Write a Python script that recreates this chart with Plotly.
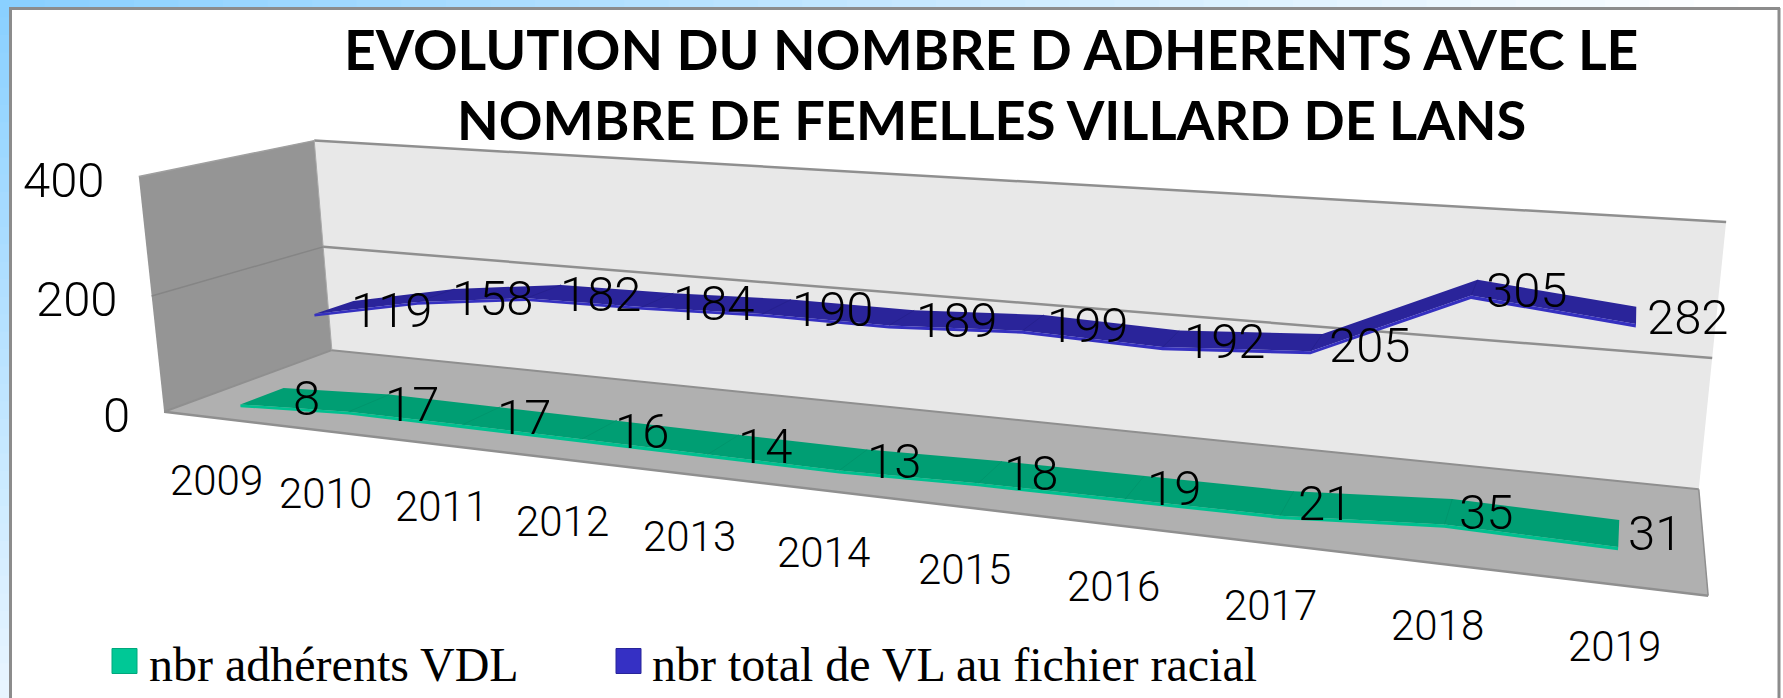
import numpy as np
import plotly.graph_objects as go

# ---------- data ----------
years = ["2009","2010","2011","2012","2013","2014","2015","2016","2017","2018","2019"]
adherents = [8,17,17,16,14,13,18,19,21,35,31]
total_vl = [119,158,182,184,190,189,199,192,205,305,282]
y_ticks = [0,200,400]
title_lines = ["EVOLUTION DU NOMBRE D ADHERENTS AVEC LE","NOMBRE DE FEMELLES VILLARD DE LANS"]
name_green = "nbr adhérents VDL"
name_blue = "nbr total de VL au fichier racial"

W,H = 1783,698
VMAX = 400
N = len(years)

# ---------- perspective camera of the 3-D box: (X along categories, Y depth, Z height) -> pixels ----------
anchors = [((0,0,0),(165,412)),((1,0,0),(1708,596)),((0,1,0),(331,350)),((1,1,0),(1699,489)),
           ((0,0,1),(138,176)),((0,1,1),(315,141)),((1,1,1),(1726,222))]
rows=[]
for (X,Y,Z),(u,v) in anchors:
    rows.append([X,Y,Z,1,0,0,0,0,-u*X,-u*Y,-u*Z,-u])
    rows.append([0,0,0,0,X,Y,Z,1,-v*X,-v*Y,-v*Z,-v])
P = np.linalg.svd(np.array(rows,float))[2][-1].reshape(3,4)

def proj(X,Y,Z):
    p = P @ np.array([X,Y,Z,1.0])
    return p[0]/p[2], p[1]/p[2]
def xcat(i):
    return (i+0.5)/N
def poly(pts):
    a=[proj(*q) for q in pts]
    a.append(a[0])
    return [c[0] for c in a],[c[1] for c in a]

fig = go.Figure()
def face(pts,fill,line=None,lw=0):
    x,y = poly(pts)
    fig.add_trace(go.Scatter(x=x,y=y,mode="lines",fill="toself",fillcolor=fill,
        line=dict(color=line or fill,width=lw if line else 0),hoverinfo="skip",showlegend=False))
def seg(p,q,color,lw):
    a,b=proj(*p),proj(*q)
    fig.add_trace(go.Scatter(x=[a[0],b[0]],y=[a[1],b[1]],mode="lines",line=dict(color=color,width=lw),hoverinfo="skip",showlegend=False))

# walls
face([(0,1,0),(1,1,0),(1,1,1),(0,1,1)],"#e8e8e8")
face([(0,0,0),(0,1,0),(0,1,1),(0,0,1)],"#959595")
face([(0,0,0),(1,0,0),(1,1,0),(0,1,0)],"#b0b0b0")
edge="#8f8f8f"
seg((0,1,1),(1,1,1),edge,2.5)
seg((0,0,1),(0,1,1),"#a0a0a0",1.5)
seg((0,1,0),(1,1,0),edge,2)
seg((0,0,0),(1,0,0),edge,2.5)
seg((0,0,0),(0,1,0),edge,2)
seg((1,0,0),(1,1,0),edge,1.5)
seg((0,1,0),(0,1,1),"#a8a8a8",1)
for t in y_ticks[1:-1]:
    z=t/VMAX
    seg((0,0,z),(0,1,z),"#858585",1.5)
    seg((0,1,z),(1,1,z),edge,2.5)

# ribbons
THICK = 0.012
def ribbon(vals,y0,y1,top,front,kink):
    zs=[v/VMAX for v in vals]
    xs=[xcat(i) for i in range(N)]
    face([(x,y0,z) for x,z in zip(xs,zs)]+[(x,y1,z) for x,z in zip(xs[::-1],zs[::-1])],top)
    for x,z in zip(xs[1:-1],zs[1:-1]):
        seg((x,y0,z),(x,y1,z),kink,0.8)
    face([(x,y0,z) for x,z in zip(xs,zs)]+[(x,y0,z-THICK) for x,z in zip(xs[::-1],zs[::-1])],front)
ribbon(total_vl,0.60,0.85,"#2a249a","#3530c0","#25208c")
ribbon(adherents,0.13,0.38,"#009e73","#00c08f","#00936b")

fs_num=49
FONT="Roboto"
def label(x,y,text,size=fs_num,family=FONT,color="black",weight=300):
    fig.add_annotation(x=x,y=y,xref="x",yref="y",text=text,showarrow=False,xanchor="center",yanchor="middle",
        font=dict(size=size,family=family,color=color,weight=weight))

# data labels
for i,v in enumerate(total_vl):
    x,y=proj(xcat(i),0.76,v/VMAX)
    label(x+52,y+5,str(v))
for i,v in enumerate(adherents):
    x,y=proj(xcat(i),0.3,v/VMAX)
    label(x+36,y+5,str(v))
# category labels
for i,t in enumerate(years):
    x,y=proj(xcat(i),0,0)
    label(x-1,y+62,t,size=42)
# value labels
for t in y_ticks:
    x,y=proj(0,0,t/VMAX)
    fig.add_annotation(x=x-32,y=y+4,text=str(t),showarrow=False,xanchor="right",yanchor="middle",
        font=dict(size=fs_num,family=FONT,color="black",weight=300))
# title
label(991,48,title_lines[0],size=55.3,family="Lato",weight=700)
label(991,119,title_lines[1],size=54.2,family="Lato",weight=700)

# legend
for x,c,b,name,tx in [(124.5,"#00c896","#00a87c",name_green,147),(628.5,"#3530c4","#28249a",name_blue,650)]:
    fig.add_trace(go.Scatter(x=[x],y=[661],mode="markers",name=name,showlegend=False,
        marker=dict(symbol="square",size=25,color=c,line=dict(color=b,width=1))))
    fig.add_annotation(x=tx,y=664,text=name,showarrow=False,xanchor="left",yanchor="middle",
        font=dict(size=48,family="Liberation Serif",color="black"))

# page frame
shapes=[dict(type="rect",xref="x",yref="y",x0=0,x1=W,y0=0,y1=H,fillcolor="white",line_width=0,layer="below")]
def mix(a,b,t):
    return "rgb(%d,%d,%d)"%tuple(round(a[k]+(b[k]-a[k])*t) for k in range(3))
c0,c1=(138,208,255),(232,245,255)
for k in range(40):
    shapes.append(dict(type="rect",xref="x",yref="y",x0=0,x1=9,y0=k*H/40,y1=(k+1)*H/40+1,fillcolor=mix(c0,c1,k/39),line_width=0,layer="below"))
    shapes.append(dict(type="rect",xref="x",yref="y",x0=k*W/40,x1=(k+1)*W/40+1,y0=0,y1=8,fillcolor=mix(c0,(255,255,255),k/39),line_width=0,layer="below"))
frame=dict(color="#8c8c8c",width=3)
shapes.append(dict(type="line",xref="x",yref="y",x0=9,x1=W-3,y0=8.5,y1=8.5,line=frame,layer="below"))
shapes.append(dict(type="line",xref="x",yref="y",x0=10.5,x1=10.5,y0=8,y1=H,line=frame,layer="below"))
shapes.append(dict(type="line",xref="x",yref="y",x0=W-4,x1=W-4,y0=8,y1=H,line=frame,layer="below"))

fig.update_layout(width=W,height=H,margin=dict(l=0,r=0,t=0,b=0),paper_bgcolor="white",plot_bgcolor="white",
    shapes=shapes,showlegend=False,
    xaxis=dict(range=[0,W],visible=False,fixedrange=True),
    yaxis=dict(range=[H,0],visible=False,fixedrange=True))
fig.write_html("out.html",post_script="document.body.style.margin='0';document.body.style.overflow='hidden';",config=dict(displayModeBar=False))
